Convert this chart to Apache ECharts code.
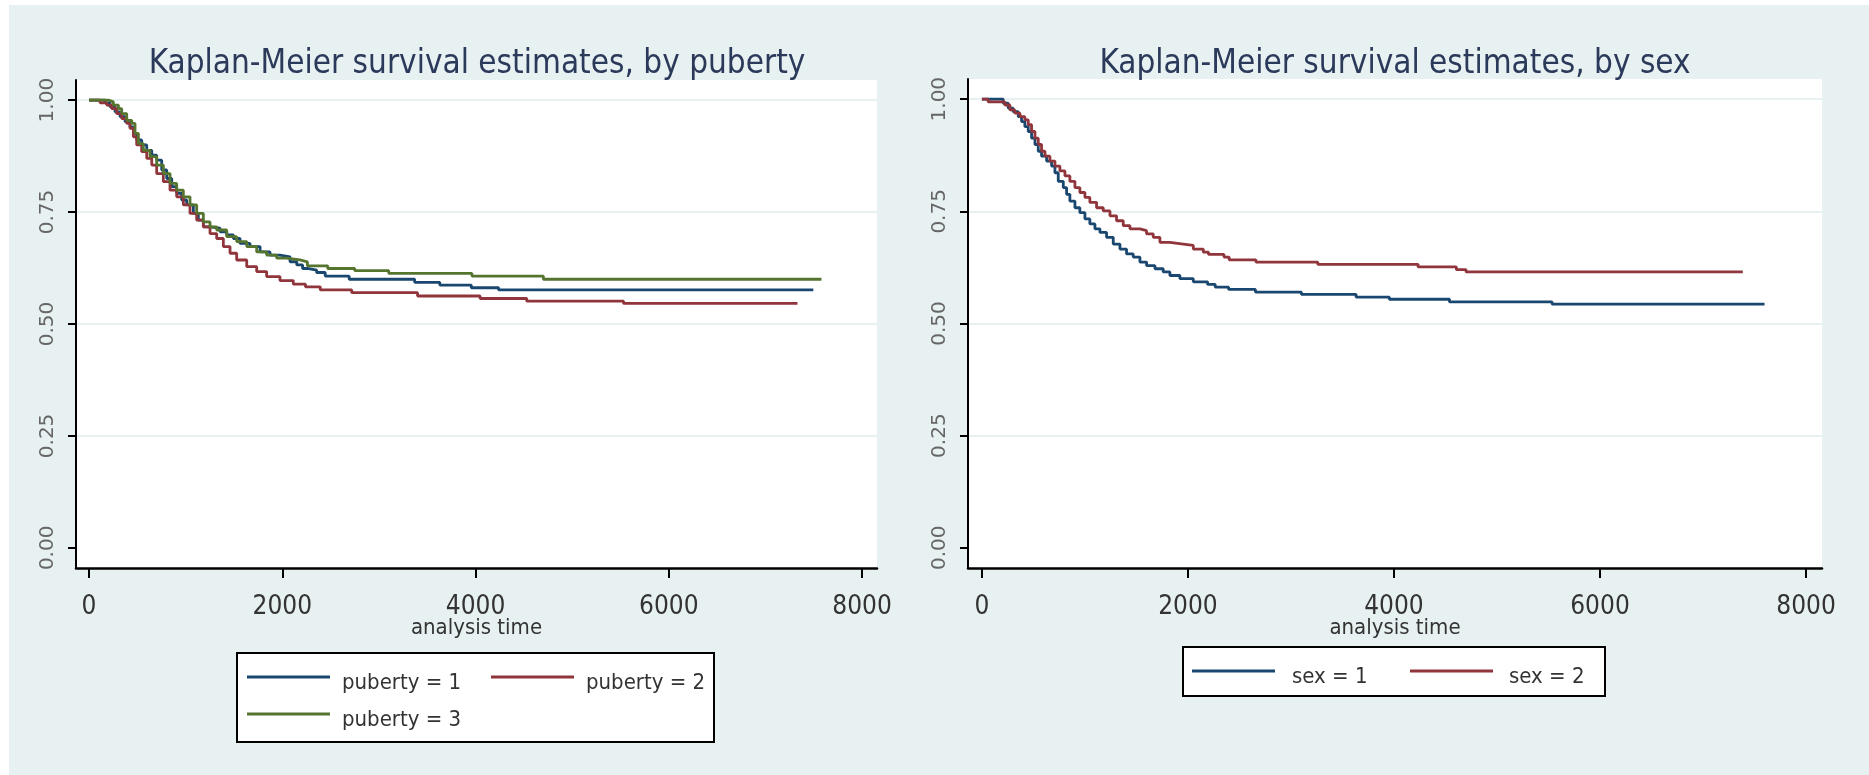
<!DOCTYPE html>
<html>
<head>
<meta charset="utf-8">
<script src="https://cdn.jsdelivr.net/npm/echarts@6/dist/echarts.min.js"></script>
<style>
  html, body { margin: 0; padding: 0; background: #fff; }
  .frame { position: absolute; left: 9px; top: 5px; right: 0; bottom: 0; background: #e8f1f2; }
  #chart { position: absolute; left: 0; top: 0; width: 1869px; height: 775px; }
</style>
</head>
<body>
<div class="frame"></div>
<div id="chart"></div>
<script>
// puberty groups (analysis time / survival estimate after each drop)
const pub1T = [0, 166, 217, 269, 321, 373, 424, 459, 493, 545, 597, 649, 700, 752, 804, 856, 907, 959, 1011, 1080, 1131, 1183, 1252, 1356, 1425, 1494, 1563, 1666, 1770, 1873, 1976, 2080, 2150, 2210, 2260, 2355, 2444, 2692, 3370, 3630, 3956, 4239, 7496]
const pub1S = [1, 0.994, 0.985, 0.974, 0.963, 0.952, 0.940, 0.926, 0.911, 0.900, 0.888, 0.877, 0.866, 0.844, 0.825, 0.807, 0.792, 0.777, 0.766, 0.747, 0.732, 0.717, 0.714, 0.706, 0.699, 0.691, 0.680, 0.673, 0.661, 0.654, 0.650, 0.639, 0.632, 0.624, 0.6205, 0.615, 0.607, 0.600, 0.593, 0.587, 0.581, 0.576, 0.576]

const pub2T = [0, 114, 183, 235, 286, 338, 390, 424, 459, 493, 545, 597, 649, 700, 769, 838, 907, 976, 1045, 1114, 1183, 1252, 1321, 1390, 1459, 1528, 1632, 1735, 1838, 1976, 2114, 2240, 2393, 2719, 3400, 4047, 4530, 5532, 7332]
const pub2S = [1, 0.994, 0.989, 0.981, 0.970, 0.959, 0.948, 0.937, 0.918, 0.900, 0.885, 0.870, 0.855, 0.836, 0.818, 0.799, 0.784, 0.766, 0.747, 0.732, 0.717, 0.702, 0.691, 0.673, 0.658, 0.643, 0.628, 0.617, 0.606, 0.597, 0.589, 0.583, 0.576, 0.570, 0.5625, 0.557, 0.551, 0.546, 0.546]

const pub3T = [0, 200, 252, 304, 338, 390, 442, 476, 511, 562, 631, 700, 769, 838, 907, 976, 1045, 1114, 1183, 1252, 1321, 1425, 1528, 1632, 1735, 1838, 1942, 2045, 2183, 2260, 2470, 2750, 3102, 3963, 4702, 7580]
const pub3S = [1, 0.996, 0.989, 0.981, 0.970, 0.955, 0.948, 0.926, 0.903, 0.888, 0.874, 0.855, 0.836, 0.814, 0.799, 0.784, 0.766, 0.747, 0.728, 0.717, 0.710, 0.695, 0.684, 0.673, 0.661, 0.654, 0.647, 0.643, 0.639, 0.630, 0.624, 0.619, 0.613, 0.607, 0.600, 0.600]

// sex groups
const sex1T = [0, 207, 256, 304, 353, 385, 417, 450, 482, 515, 547, 579, 628, 676, 709, 741, 790, 822, 854, 903, 951, 1000, 1048, 1097, 1146, 1210, 1275, 1340, 1404, 1469, 1534, 1599, 1680, 1760, 1825, 1922, 2052, 2191, 2265, 2395, 2655, 3101, 3632, 3955, 4539, 5535, 7597]
const sex1S = [1, 0.991, 0.980, 0.972, 0.961, 0.950, 0.939, 0.928, 0.913, 0.899, 0.884, 0.873, 0.862, 0.851, 0.836, 0.817, 0.803, 0.788, 0.773, 0.758, 0.747, 0.733, 0.722, 0.711, 0.703, 0.692, 0.677, 0.666, 0.655, 0.648, 0.637, 0.629, 0.622, 0.615, 0.607, 0.600, 0.593, 0.587, 0.581, 0.576, 0.570, 0.565, 0.559, 0.554, 0.548, 0.543, 0.543]

const sex2T = [0, 61, 223, 272, 320, 369, 417, 450, 482, 515, 547, 579, 612, 660, 709, 757, 806, 854, 903, 951, 1000, 1048, 1113, 1178, 1243, 1307, 1372, 1437, 1534, 1598, 1663, 1728, 1825, 1955, 2052, 2149, 2200, 2350, 2400, 2660, 3260, 4234, 4606, 4700, 7386]
const sex2S = [1, 0.994, 0.987, 0.976, 0.969, 0.961, 0.954, 0.943, 0.928, 0.913, 0.899, 0.884, 0.873, 0.862, 0.851, 0.840, 0.829, 0.817, 0.803, 0.792, 0.781, 0.770, 0.758, 0.751, 0.740, 0.729, 0.718, 0.711, 0.707, 0.700, 0.692, 0.681, 0.677, 0.674, 0.666, 0.659, 0.654, 0.648, 0.642, 0.637, 0.632, 0.626, 0.620, 0.615, 0.615]

const xTicks = [0, 2000, 4000, 6000, 8000]
const yTicks = [0, 0.25, 0.5, 0.75, 1]

const NAVY = '#1a476f'
const MAROON = '#90353b'
const GREEN = '#55752f'
const NARROW = '"Liberation Sans Narrow", "DejaVu Sans Condensed", "Arial Narrow", sans-serif'
// bar on top, empty point below: keeps the key line a bit above the text centre
const KEY_ICON = 'path://M0,0L83,0L83,3L0,3Z M0,15L0,15Z'

const kmData = (t, s) => t.map((v, i) => [v, s[i]])

const xAxisFor = gridIndex => ({
  type: 'value', gridIndex, min: -135, max: 8155,
  name: 'analysis time', nameLocation: 'middle', nameGap: 49, nameMoveOverlap: false,
  nameTextStyle: { fontFamily: NARROW, fontSize: 22, color: '#333' },
  axisLine: { show: true, onZero: false, lineStyle: { color: '#000', width: 2.5 } },
  axisTick: { show: true, length: 10, customValues: xTicks, lineStyle: { color: '#000', width: 2 } },
  axisLabel: {
    customValues: xTicks, margin: 26, fontFamily: NARROW, fontSize: 26, color: '#333',
    formatter: v => String(v)
  },
  splitLine: { show: false }
})

const yAxisFor = gridIndex => ({
  type: 'value', gridIndex, min: -0.045, max: 1.045,
  axisLine: { show: true, onZero: false, lineStyle: { color: '#000', width: 2 } },
  axisTick: { show: true, length: 8, customValues: yTicks, lineStyle: { color: '#000', width: 2 } },
  axisLabel: {
    customValues: yTicks, rotate: 90, margin: 18,
    fontFamily: 'DejaVu Sans', fontSize: 20, color: '#666',
    formatter: v => v.toFixed(2)
  },
  splitLine: { show: true, lineStyle: { color: ['#ffffff', '#e8f1f2', '#e8f1f2', '#e8f1f2', '#e8f1f2'], width: 2 } }
})

const kmSeries = (name, t, s, color, idx) => ({
  type: 'line', name, xAxisIndex: idx, yAxisIndex: idx,
  step: 'end', symbol: 'none', data: kmData(t, s),
  lineStyle: { width: 2.8, color }, itemStyle: { color }
})

const legendItem = (name, left, top, w) => ({
  data: [name], left, top, itemWidth: w, itemHeight: 15, icon: KEY_ICON,
  padding: 0, selectedMode: false, itemStyle: { borderWidth: 0 },
  textStyle: { fontFamily: NARROW, fontSize: 22, color: '#333', padding: [0, 0, 0, 7] }
})

const titleStyle = { fontFamily: NARROW, fontSize: 33, fontWeight: 'normal', color: '#2b3a5a' }

const chart = echarts.init(document.getElementById('chart'), null, { renderer: 'canvas' })

chart.setOption({
  animation: false,
  backgroundColor: 'transparent',
  title: [
    { text: 'Kaplan-Meier survival estimates, by puberty', left: 472, top: 43, textAlign: 'center', textStyle: titleStyle },
    { text: 'Kaplan-Meier survival estimates, by sex', left: 1390, top: 43, textAlign: 'center', textStyle: titleStyle }
  ],
  grid: [
    { left: 76, top: 80, width: 801, height: 488, show: true, backgroundColor: '#fff', borderWidth: 0 },
    { left: 968, top: 79, width: 854, height: 489, show: true, backgroundColor: '#fff', borderWidth: 0 }
  ],
  xAxis: [xAxisFor(0), xAxisFor(1)],
  yAxis: [yAxisFor(0), yAxisFor(1)],
  graphic: [
    { type: 'rect', shape: { x: 237, y: 653, width: 477, height: 89 }, style: { fill: '#fff', stroke: '#000', lineWidth: 2 } },
    { type: 'rect', shape: { x: 1183, y: 647, width: 422, height: 49 }, style: { fill: '#fff', stroke: '#000', lineWidth: 2 } }
  ],
  legend: [
    legendItem('puberty = 1', 247, 672, 83),
    legendItem('puberty = 2', 491, 672, 83),
    legendItem('puberty = 3', 247, 709, 83),
    legendItem('sex = 1', 1192, 666, 93),
    legendItem('sex = 2', 1410, 666, 91)
  ],
  series: [
    kmSeries('puberty = 1', pub1T, pub1S, NAVY, 0),
    kmSeries('puberty = 2', pub2T, pub2S, MAROON, 0),
    kmSeries('puberty = 3', pub3T, pub3S, GREEN, 0),
    kmSeries('sex = 1', sex1T, sex1S, NAVY, 1),
    kmSeries('sex = 2', sex2T, sex2S, MAROON, 1)
  ]
})
</script>
</body>
</html>
